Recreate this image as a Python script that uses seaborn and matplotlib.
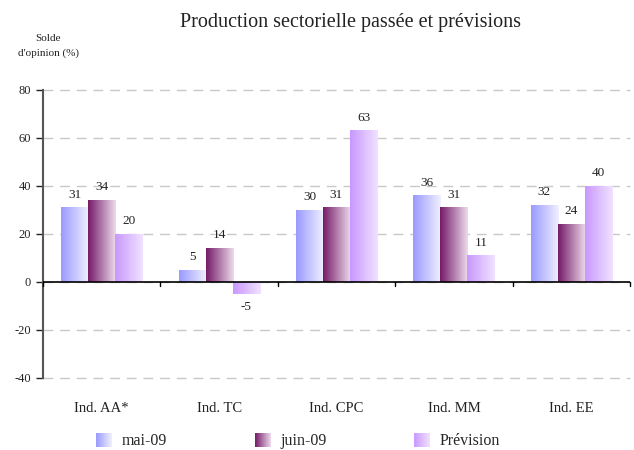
import numpy as np
import pandas as pd
import matplotlib.pyplot as plt
import seaborn as sns
from matplotlib.colors import LinearSegmentedColormap
from matplotlib.patches import Patch

# --------------------------------------------------
# Data
# --------------------------------------------------
categories = ["Ind. AA*", "Ind. TC", "Ind. CPC", "Ind. MM", "Ind. EE"]
series_names = ["mai-09", "juin-09", "Prévision"]
mai_09 = [31, 5, 30, 36, 32]
juin_09 = [34, 14, 31, 31, 24]
prevision = [20, -5, 63, 11, 40]

# gradient colours (left -> right) for each series
gradients = {
    "mai-09": ("#9a9aff", "#f0f0ff"),
    "juin-09": ("#761c69", "#ecdaec"),
    "Prévision": ("#c998ff", "#f0e2ff"),
}

df = pd.DataFrame({
    "category": categories * 3,
    "series": np.repeat(series_names, len(categories)),
    "value": mai_09 + juin_09 + prevision,
})

sns.set_style("white")
plt.rcParams["font.family"] = ["Liberation Serif", "DejaVu Serif"]
plt.rcParams["axes.unicode_minus"] = False

fig = plt.figure(figsize=(6.34, 4.5), dpi=100)
ax = fig.add_axes([43 / 634, 1 - 378 / 450, 587 / 634, 288 / 450])

sns.barplot(
    data=df, x="category", y="value", hue="series",
    order=categories, hue_order=series_names,
    width=0.69, gap=0, legend=False, ax=ax,
)


def gradient_cmap(name):
    left, right = gradients[name]
    return LinearSegmentedColormap.from_list(name, [left, right])


grad = np.linspace(0, 1, 64).reshape(1, -1)
for name, container in zip(series_names, ax.containers):
    cmap = gradient_cmap(name)
    for bar in container:
        x, y = bar.get_x(), bar.get_y()
        w, h = bar.get_width(), bar.get_height()
        bar.set_facecolor("none")
        bar.set_edgecolor("none")
        ax.imshow(grad, cmap=cmap, aspect="auto", interpolation="bicubic",
                  extent=[x, x + w, min(y, y + h), max(y, y + h)], zorder=2)
    ax.bar_label(container, padding=5, fontsize=9.5, color="#222222")

ax.set_xlim(-0.5, len(categories) - 0.5)
ax.set_ylim(-40, 80)
ax.set_yticks(np.arange(-40, 81, 20))
ax.yaxis.grid(True, linestyle=(0, (7, 5)), color="#c8c8c8", linewidth=1)
for gl in ax.get_ygridlines():
    gl.set_clip_on(False)
ax.set_axisbelow(True)
ax.axhline(0, color="black", linewidth=1.2, zorder=3)

# category boundary tick marks on the zero line
for xb in np.arange(-0.5, len(categories), 1.0):
    ax.plot([xb, xb], [0, -1.6], color="black", linewidth=1, zorder=3,
            clip_on=False)

ax.set_xticks(range(len(categories)))
ax.set_xticklabels(categories, fontsize=10.5, color="#222222")
ax.tick_params(axis="x", length=0, pad=17)
ax.tick_params(axis="y", direction="out", length=5, width=1,
               colors="#222222", labelsize=9, left=True)
ax.set_xlabel("")
ax.set_ylabel("")

for side in ["top", "right", "bottom"]:
    ax.spines[side].set_visible(False)
ax.spines["left"].set_color("#555555")
ax.spines["left"].set_linewidth(1.5)

fig.text(350 / 634, 1 - 23 / 450, "Production sectorielle passée et prévisions",
         ha="center", va="center", fontsize=14.5, color="#222222")
fig.text(48 / 634, 1 - 46 / 450, "Solde\nd'opinion (%)", ha="center",
         va="center", fontsize=8, linespacing=1.8, color="#222222")

handles = [Patch(facecolor=gradients[n][0], edgecolor="none") for n in series_names]
leg = fig.legend(handles, series_names, loc="center", ncol=3,
                 bbox_to_anchor=(298 / 634, 1 - 441 / 450), frameon=False,
                 fontsize=11.5, handlelength=1.0, handleheight=1.0,
                 columnspacing=5.5, handletextpad=0.6)

# paint gradients onto the legend swatches
fig.canvas.draw()
for name, patch in zip(series_names, leg.get_patches()):
    bb = patch.get_window_extent().transformed(fig.transFigure.inverted())
    patch.set_visible(False)
    iax = fig.add_axes([bb.x0, bb.y0, bb.width, bb.height])
    iax.imshow(grad, cmap=gradient_cmap(name), aspect="auto",
               interpolation="bicubic")
    iax.axis("off")

fig.savefig("out.png", dpi=100)
